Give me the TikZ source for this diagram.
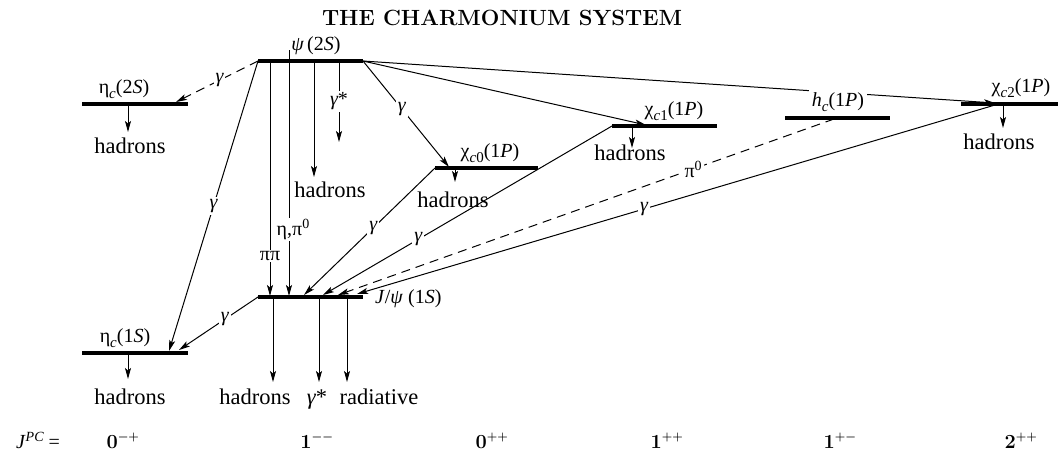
\documentclass[tikz,border=0pt]{standalone}
\usepackage{fontspec}
\newfontfamily\tms{Liberation Serif}
\usetikzlibrary{arrows.meta}
\newcommand\lowsub[1]{\raisebox{-5pt}{\fontsize{15}{15}\selectfont #1}}
\newcommand\highsup[1]{\raisebox{7pt}{\fontsize{14}{14}\selectfont #1}}
\begin{document}
\begin{tikzpicture}[x=1pt,y=-1pt,
  lev/.style={line width=3.2pt},
  conn/.style={line width=1pt,-{Stealth[length=11pt,width=6pt,inset=2.5pt]}},
  dsh/.style={dash pattern=on 9pt off 6pt},
  lbl/.style={font=\tms\fontsize{20}{24}\selectfont, fill=white, inner sep=2pt},
  st/.style={font=\tms\fontsize{20}{24}\selectfont, inner sep=0pt, anchor=base},
  had/.style={font=\tms\fontsize{22.5}{26}\selectfont, inner sep=0pt, anchor=base},
  jpc/.style={font=\bfseries\fontsize{20}{24}\selectfont, inner sep=0pt, anchor=base}]
\useasboundingbox (0,0) rectangle (1058,451);

\node[font=\bfseries\fontsize{22}{26}\selectfont, anchor=base, inner sep=0pt] (title) at (502,25) {THE CHARMONIUM SYSTEM};

% level end points
\coordinate (psiL) at (258,61);   \coordinate (psiR) at (363,61);
\coordinate (eta2L) at (82,104);  \coordinate (eta2R) at (188,104);
\coordinate (eta1L) at (82,353);  \coordinate (eta1R) at (188,353);
\coordinate (jpsiL) at (258,297); \coordinate (jpsiR) at (363,297);
\coordinate (chi0L) at (435,168); \coordinate (chi0R) at (538,168);
\coordinate (chi1L) at (612,126); \coordinate (chi1R) at (717,126);
\coordinate (hcL) at (785,118);   \coordinate (hcR) at (890,118);
\coordinate (chi2L) at (961,104); \coordinate (chi2R) at (1058,104);

% arrow end points
\coordinate (eta2in) at (176,102);
\coordinate (eta1in) at (169,351);
\coordinate (eta1inb) at (179,350);
\coordinate (pipiT) at (270,61);  \coordinate (pipiB) at (270,296);
\coordinate (etapiT) at (289,50); \coordinate (etapiB) at (289,296);
\coordinate (psihT) at (314,61);  \coordinate (psihB) at (314,177);
\coordinate (gsT) at (339,61);    \coordinate (gsB) at (339,142);
\coordinate (chi0in) at (449,167);
\coordinate (chi1in) at (646,125);
\coordinate (chi2in) at (995,103);
\coordinate (jin1) at (304,295);  \coordinate (jin2) at (323,295);
\coordinate (jin3) at (338,295);  \coordinate (jin4) at (357,294);
\coordinate (hcout) at (834,119);
\coordinate (chi2out) at (995,105);
\coordinate (jd1T) at (273,297);  \coordinate (jd1B) at (273,382);
\coordinate (jd2T) at (319,297);  \coordinate (jd2B) at (319,382);
\coordinate (jd3T) at (347,297);  \coordinate (jd3B) at (347,382);
\coordinate (e2hT) at (128,104);  \coordinate (e2hB) at (128,132);
\coordinate (e1hT) at (128,353);  \coordinate (e1hB) at (128,379);
\coordinate (c0hT) at (455,168);  \coordinate (c0hB) at (455,182);
\coordinate (c1hT) at (632,126);  \coordinate (c1hB) at (632,148);
\coordinate (c2hT) at (1003,104); \coordinate (c2hB) at (1003,128);

% transitions
\draw[conn,dsh] (psiL) -- node[lbl,pos=0.47] (g1) {\itshape γ} (eta2in);
\draw[conn] (psiL) -- node[lbl,pos=0.5] (g2) {\itshape γ} (eta1in);
\draw[conn] (pipiT) -- node[lbl,pos=0.83,inner sep=1pt] (pp) {ππ} (pipiB);
\draw[conn] (etapiT) -- node[lbl,pos=0.73,inner sep=1pt,xshift=4pt] (ep) {η,π\highsup{0}} (etapiB);
\draw[conn] (psihT) -- (psihB);
\draw[conn] (gsT) -- node[lbl,pos=0.5] (gs) {\itshape γ\upshape *} (gsB);
\draw[conn] (psiR) -- node[lbl,pos=0.45] (g3) {\itshape γ} (chi0in);
\draw[conn] (psiR) -- (chi1in);
\draw[conn] (psiR) -- (chi2in);
\draw[conn] (chi0L) -- node[lbl,pos=0.47] (g4) {\itshape γ} (jin1);
\draw[conn] (chi1L) -- node[lbl,pos=0.67] (g5) {\itshape γ} (jin2);
\draw[conn,dsh] (hcout) -- node[lbl,pos=0.284] (p0) {π\highsup{0}} (jin3);
\draw[conn] (chi2out) -- node[lbl,pos=0.55] (g6) {\itshape γ} (jin4);
\draw[conn] (jpsiL) -- node[lbl,pos=0.42] (g7) {\itshape γ} (eta1inb);

% decays
\draw[conn] (jd1T) -- (jd1B);
\draw[conn] (jd2T) -- (jd2B);
\draw[conn] (jd3T) -- (jd3B);
\draw[conn] (e2hT) -- (e2hB);
\draw[conn] (e1hT) -- (e1hB);
\draw[conn] (c0hT) -- (c0hB);
\draw[conn] (c1hT) -- (c1hB);
\draw[conn] (c2hT) -- (c2hB);

% state labels
\node[st] (lpsi) at (316,50) {\itshape ψ\,\upshape(2\itshape S\upshape)};
\node[st] (leta2) at (124,93) {η\lowsub{\itshape c}(2\textit{S})};
\node[st] (leta1) at (125,342) {η\lowsub{\itshape c}(1\textit{S})};
\node[st,anchor=base west] (ljpsi) at (375,303) {\textit{J}/\textit{ψ} (1\textit{S})};
\node[st] (lchi0) at (490,157) {χ\lowsub{\itshape c\upshape 0}(1\textit{P})};
\node[st] (lchi1) at (674,115) {χ\lowsub{\itshape c\upshape 1}(1\textit{P})};
\node[st,fill=white,inner xsep=3pt,inner ysep=3pt] (lhc) at (838,106) {\textit{h}\lowsub{\itshape c}(1\textit{P})};
\node[st] (lchi2) at (1021,92) {χ\lowsub{\itshape c\upshape 2}(1\textit{P})};

% levels
\draw[lev] (psiL) -- (psiR);
\draw[lev] (eta2L) -- (eta2R);
\draw[lev] (eta1L) -- (eta1R);
\draw[lev] (jpsiL) -- (jpsiR);
\draw[lev] (chi0L) -- (chi0R);
\draw[lev] (chi1L) -- (chi1R);
\draw[lev] (hcL) -- (hcR);
\draw[lev] (chi2L) -- (chi2R);

% decay products
\node[had] (h1) at (130,153) {hadrons};
\node[had] (h2) at (330,197) {hadrons};
\node[had] (h3) at (453,207) {hadrons};
\node[had] (h4) at (630,160) {hadrons};
\node[had] (h5) at (999,149) {hadrons};
\node[had] (h6) at (130,404) {hadrons};
\node[had] (h7) at (255,404) {hadrons};
\node[had] (gsj) at (317,404) {\itshape γ\upshape *};
\node[had] (rad) at (379,404) {radiative};

% J^PC row
\node[st] (jpclab) at (38,448) {\textit{J}\highsup{\itshape PC} =};
\node[jpc] (q1) at (123,448) {0\textsuperscript{\fontsize{12}{12}\selectfont\boldmath$-+$}};
\node[jpc] (q2) at (317,448) {1\textsuperscript{\fontsize{12}{12}\selectfont\boldmath$--$}};
\node[jpc] (q3) at (492,448) {0\textsuperscript{\fontsize{12}{12}\selectfont\boldmath$++$}};
\node[jpc] (q4) at (667,448) {1\textsuperscript{\fontsize{12}{12}\selectfont\boldmath$++$}};
\node[jpc] (q5) at (840,448) {1\textsuperscript{\fontsize{12}{12}\selectfont\boldmath$+-$}};
\node[jpc] (q6) at (1021,448) {2\textsuperscript{\fontsize{12}{12}\selectfont\boldmath$++$}};
\end{tikzpicture}
\end{document}
